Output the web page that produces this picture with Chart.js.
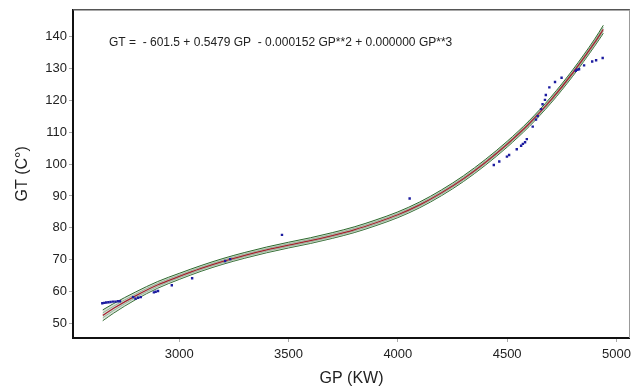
<!DOCTYPE html>
<html>
<head>
<meta charset="utf-8">
<script src="https://cdn.jsdelivr.net/npm/chart.js@4.4.1/dist/chart.umd.min.js"></script>
<style>
  html, body { margin: 0; padding: 0; background: #fff; }
  #wrap { width: 636px; height: 389px; }
</style>
</head>
<body>
<div id="wrap"><canvas id="chart"></canvas></div>
<script>
// Observed data (GP in KW, GT in C°)
const pointGP = [2648, 2657, 2666, 2676, 2686, 2697, 2708, 2719, 2729,
  2789, 2800, 2812, 2824, 2884, 2892, 2903, 2966, 3059, 3210, 3233, 3470, 4054,
  4439, 4464, 4499, 4509, 4544, 4564, 4572, 4582, 4590, 4617, 4632, 4640, 4655,
  4662, 4673, 4677, 4693, 4719, 4749, 4814, 4821, 4829, 4852, 4889, 4907, 4937];
const pointGT = [56.4, 56.5, 56.6, 56.7, 56.8, 56.9, 56.9, 57.0, 57.0,
  58.3, 57.8, 58.1, 58.3, 59.8, 60.0, 60.2, 62.0, 64.2, 69.6, 70.2, 77.8, 89.2,
  99.7, 100.8, 102.3, 102.8, 104.6, 105.7, 106.3, 106.8, 107.8, 111.7, 113.9, 115.0, 117.2,
  118.7, 120.1, 121.6, 124.0, 125.7, 127.0, 129.2, 129.5, 129.7, 130.9, 132.1, 132.5, 133.2];

const curveGP = [2650, 2700, 2800, 2900, 3000, 3100, 3200, 3300, 3400, 3500, 3600, 3700,
  3800, 3900, 4000, 4100, 4200, 4300, 4400, 4500, 4600, 4700, 4800, 4900, 4940];
const curveGT = [52.6, 54.8, 58.7, 62.1, 64.8, 67.3, 69.5, 71.4, 73.1, 74.6, 76.0, 77.6,
  79.4, 81.6, 84.1, 87.2, 91.0, 95.4, 100.5, 106.2, 112.6, 120.0, 128.5, 138.0, 142.2];
const bandHalf = [1.7, 1.5, 1.2, 1.05, 0.95, 0.9, 0.9, 0.9, 0.9, 0.9, 0.9, 0.9,
  0.9, 0.9, 0.9, 0.9, 0.9, 0.9, 0.9, 0.9, 0.9, 0.95, 1.0, 1.1, 1.25];

const xTicks = [3000, 3500, 4000, 4500, 5000];
const yTicks = [50, 60, 70, 80, 90, 100, 110, 120, 130, 140];
const equation = 'GT =  - 601.5 + 0.5479 GP  - 0.000152 GP**2 + 0.000000 GP**3';

const FONT = '"Liberation Sans", Arial, sans-serif';

const pts = (xs, ys) => xs.map((x, i) => ({ x: x, y: ys[i] }));
const band = k => curveGP.map((x, i) => ({ x: x, y: curveGT[i] + k * bandHalf[i] }));

const lineDs = (label, data, color, width, extra) => Object.assign({
  type: 'line', label, data, borderColor: color, borderWidth: width,
  pointRadius: 0, cubicInterpolationMode: 'monotone', fill: false
}, extra || {});

const frame = {
  id: 'frame',
  afterDraw(chart) {
    const { ctx, chartArea: a } = chart;
    ctx.save();
    ctx.strokeStyle = '#555';
    ctx.lineWidth = 1.5;
    ctx.beginPath();
    ctx.moveTo(a.left, a.top);
    ctx.lineTo(a.right, a.top);
    ctx.stroke();
    ctx.strokeStyle = '#999';
    ctx.lineWidth = 1;
    ctx.beginPath();
    ctx.moveTo(a.right - 0.5, a.top);
    ctx.lineTo(a.right - 0.5, a.bottom);
    ctx.stroke();
    ctx.fillStyle = '#222';
    ctx.font = '12px ' + FONT;
    ctx.textBaseline = 'middle';
    ctx.fillText(equation, 109, 43);
    ctx.restore();
  }
};

new Chart(document.getElementById('chart'), {
  type: 'scatter',
  data: {
    datasets: [
      { label: 'GT', data: pts(pointGP, pointGT), backgroundColor: '#1c1ca0',
        borderColor: '#1c1ca0', pointStyle: 'rect', pointRadius: 1.7, borderWidth: 0 },
      lineDs('fit', pts(curveGP, curveGT), '#a3232f', 1.3),
      lineDs('upper', band(1), '#2d6a2d', 1, { fill: 3, backgroundColor: 'rgba(150,170,150,0.35)' }),
      lineDs('lower', band(-1), '#2d6a2d', 1),
      lineDs('upper2', band(0.45), 'rgba(70,130,70,0.7)', 0.8),
      lineDs('lower2', band(-0.45), 'rgba(70,130,70,0.7)', 0.8)
    ]
  },
  options: {
    responsive: true,
    maintainAspectRatio: false,
    animation: false,
    layout: { padding: { top: 9, right: 2, left: 0, bottom: 0 } },
    plugins: { legend: { display: false }, tooltip: { enabled: false } },
    scales: {
      x: {
        type: 'linear', min: 2514, max: 5062,
        afterBuildTicks: ax => { ax.ticks = xTicks.map(v => ({ value: v })); },
        afterFit: ax => { ax.height = 51; },
        grid: { drawOnChartArea: false, drawTicks: true, tickLength: 4, color: '#aaa' },
        border: { display: true, color: '#111', width: 2 },
        ticks: { color: '#222', padding: 5, font: { family: FONT, size: 13 }, maxRotation: 0,
          callback: v => String(v) },
        title: { display: true, text: 'GP (KW)', color: '#222', padding: { top: 0, bottom: 1 },
          font: { family: FONT, size: 16 } }
      },
      y: {
        type: 'linear', min: 45.5, max: 148.3,
        afterBuildTicks: ax => { ax.ticks = yTicks.map(v => ({ value: v })); },
        afterFit: ax => { ax.width = 73; },
        grid: { drawOnChartArea: false, drawTicks: true, tickLength: 4, color: '#aaa' },
        border: { display: true, color: '#111', width: 2 },
        ticks: { color: '#222', padding: 2, font: { family: FONT, size: 13 },
          callback: v => String(v) },
        title: { display: true, text: 'GT (C°)', color: '#222', padding: { top: 13, bottom: 0 },
          font: { family: FONT, size: 16 } }
      }
    }
  },
  plugins: [frame]
});
</script>
</body>
</html>
